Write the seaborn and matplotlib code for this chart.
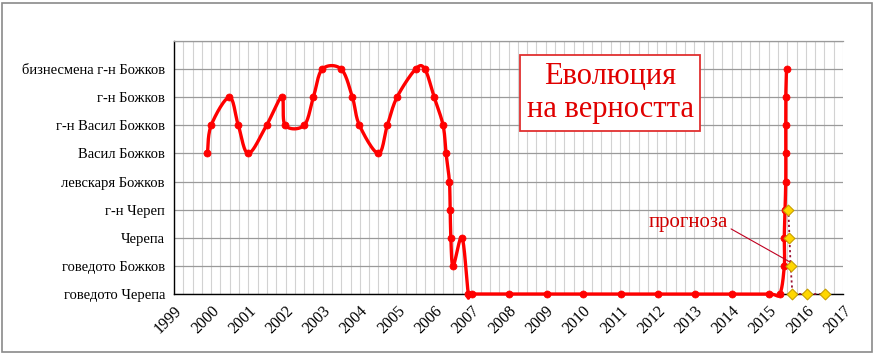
import numpy as np
import pandas as pd
import matplotlib
matplotlib.use("Agg")
import matplotlib.pyplot as plt
from matplotlib.patches import Rectangle
import seaborn as sns

# ---------------- data ----------------
level_labels = ["говедото Черепа", "говедото Божков", "Черепа", "г-н Череп",
                "левскаря Божков", "Васил Божков", "г-н Васил Божков",
                "г-н Божков", "бизнесмена г-н Божков"]
year_ticks = list(range(1999, 2018))

hist_years = [1999.9, 2000.0, 2000.49, 2000.73, 2001.0, 2001.49, 2001.9, 2001.99,
              2002.5, 2002.75, 2002.99, 2003.5, 2003.8, 2003.99, 2004.5, 2004.74,
              2005.0, 2005.5, 2005.75, 2006.0, 2006.24, 2006.32, 2006.41, 2006.43,
              2006.45, 2006.51, 2006.75, 2006.92, 2007.01, 2008.02, 2009.03, 2010.01,
              2011.02, 2012.03, 2013.03, 2014.02, 2015.02, 2015.3, 2015.42, 2015.42,
              2015.44, 2015.46, 2015.46, 2015.46, 2015.46, 2015.48]
hist_levels = [5, 6, 7, 6, 5, 6, 7, 6,
               6, 7, 8, 8, 7, 6, 5, 6,
               7, 8, 8, 7, 6, 5, 4, 3,
               2, 1, 2, 0, 0, 0, 0, 0,
               0, 0, 0, 0, 0, 0, 1, 2,
               3, 4, 5, 6, 7, 8]

fc_years = [2015.53, 2015.56, 2015.59, 2015.64, 2016.03, 2016.52]
fc_levels = [3, 2, 1, 0, 0, 0]

title_text = "Еволюция\nна верността"
forecast_label = "прогноза"

# ---------------- style ----------------
sns.set_style("white")
plt.rcParams["font.family"] = ["Liberation Serif", "DejaVu Serif"]

W, H, DPI = 874, 354, 100
fig = plt.figure(figsize=(W / DPI, H / DPI), dpi=DPI)
left, right, top, bottom = 174, 843, 41, 294
ax = fig.add_axes([left / W, 1 - bottom / H, (right - left) / W, (bottom - top) / H])

XMIN, XMAX, YMIN, YMAX = 1999, 2017, 0, 9
sx = (right - left) / (XMAX - XMIN)
sy = (bottom - top) / (YMAX - YMIN)


def smooth(xs, ys, n=24):
    """Excel-like smoothed line (Catmull-Rom Bezier in screen space)."""
    P = np.column_stack([np.asarray(xs) * sx, np.asarray(ys) * sy])
    out = [P[0]]
    m = len(P)
    for i in range(m - 1):
        p0 = P[i - 1] if i > 0 else P[i]
        p3 = P[i + 2] if i + 2 < m else P[i + 1]
        c1 = P[i] + (P[i + 1] - p0) / 6.0
        c2 = P[i + 1] - (p3 - P[i]) / 6.0
        t = np.linspace(0, 1, n)[1:, None]
        seg = ((1 - t) ** 3) * P[i] + 3 * ((1 - t) ** 2) * t * c1 + 3 * (1 - t) * t ** 2 * c2 + t ** 3 * P[i + 1]
        out.extend(seg)
    out = np.array(out)
    return out[:, 0] / sx, out[:, 1] / sy


curve_x, curve_y = smooth(hist_years, hist_levels)
curve_df = pd.DataFrame({"x": curve_x, "y": curve_y})
hist_df = pd.DataFrame({"x": hist_years, "y": hist_levels})
fc_df = pd.DataFrame({"x": fc_years, "y": fc_levels})

# grid
ax.set_xlim(XMIN, XMAX)
ax.set_ylim(YMIN, YMAX)
ax.set_xticks(year_ticks)
ax.set_xticks(np.arange(XMIN, XMAX + 0.01, 0.25), minor=True)
ax.set_yticks(range(0, 10))
ax.set_yticklabels(level_labels + [""])
ax.xaxis.grid(True, which="both", color="#d2d2d2", lw=0.8)
ax.yaxis.grid(True, which="major", color="#9a9a9a", lw=0.9)
ax.set_axisbelow(True)

# forecast (dotted)
sns.lineplot(data=fc_df, x="x", y="y", sort=False, estimator=None, ax=ax,
             color="#9b1030", lw=1.3, linestyle=(0, (1.2, 1.6)), zorder=3)

# smoothed history line
sns.lineplot(data=curve_df, x="x", y="y", sort=False, estimator=None, ax=ax,
             color="#ff0000", lw=2.4, zorder=4)
sns.scatterplot(data=hist_df, x="x", y="y", ax=ax, color="#ff0000", s=26,
                edgecolor="#ff0000", linewidth=0.5, zorder=5)
sns.scatterplot(data=fc_df, x="x", y="y", ax=ax, marker="D", color="#ffd700", s=30,
                edgecolor="#c8a000", linewidth=0.8, zorder=6)
for art in list(ax.lines) + list(ax.collections):
    art.set_clip_on(False)

ax.set_xlabel("")
ax.set_ylabel("")

# spines / ticks
ax.spines["right"].set_visible(False)
ax.spines["top"].set_color("#9a9a9a")
ax.spines["top"].set_linewidth(0.9)
for s in ["left", "bottom"]:
    ax.spines[s].set_color("black")
    ax.spines[s].set_linewidth(1.0)
    ax.spines[s].set_zorder(2)
ax.tick_params(axis="both", which="major", direction="inout", length=7, width=1,
               color="black", labelcolor="black")
ax.tick_params(axis="y", labelsize=10.5, pad=3)
ax.tick_params(axis="x", labelsize=11.5, pad=3)
ax.tick_params(axis="x", which="minor", length=0)
for lab in ax.get_xticklabels():
    lab.set_rotation(45)
    lab.set_ha("right")
    lab.set_rotation_mode("anchor")

# title box
ax.text(0.652, 0.795, title_text, transform=ax.transAxes, ha="center", va="center",
        fontsize=22, color="#e00000", linespacing=1.18, zorder=7,
        bbox=dict(boxstyle="square,pad=0.22", fc="white", ec="#e03030", lw=1.3))

# forecast annotation
ax.annotate(forecast_label, xy=(2015.57, 1.14), xytext=(2013.9, 2.55),
            ha="right", va="center", fontsize=15, color="#d00000", zorder=7,
            arrowprops=dict(arrowstyle="-", color="#c00020", lw=0.8,
                            shrinkA=0, shrinkB=0, relpos=(1.0, 0.25)))

# outer frame
fig.patches.append(Rectangle((1.5 / W, 2 / H), (W - 4) / W, (H - 4.5) / H,
                             transform=fig.transFigure, fill=False,
                             ec="#8a8a8a", lw=1.2))

fig.savefig("out.png", dpi=DPI)
